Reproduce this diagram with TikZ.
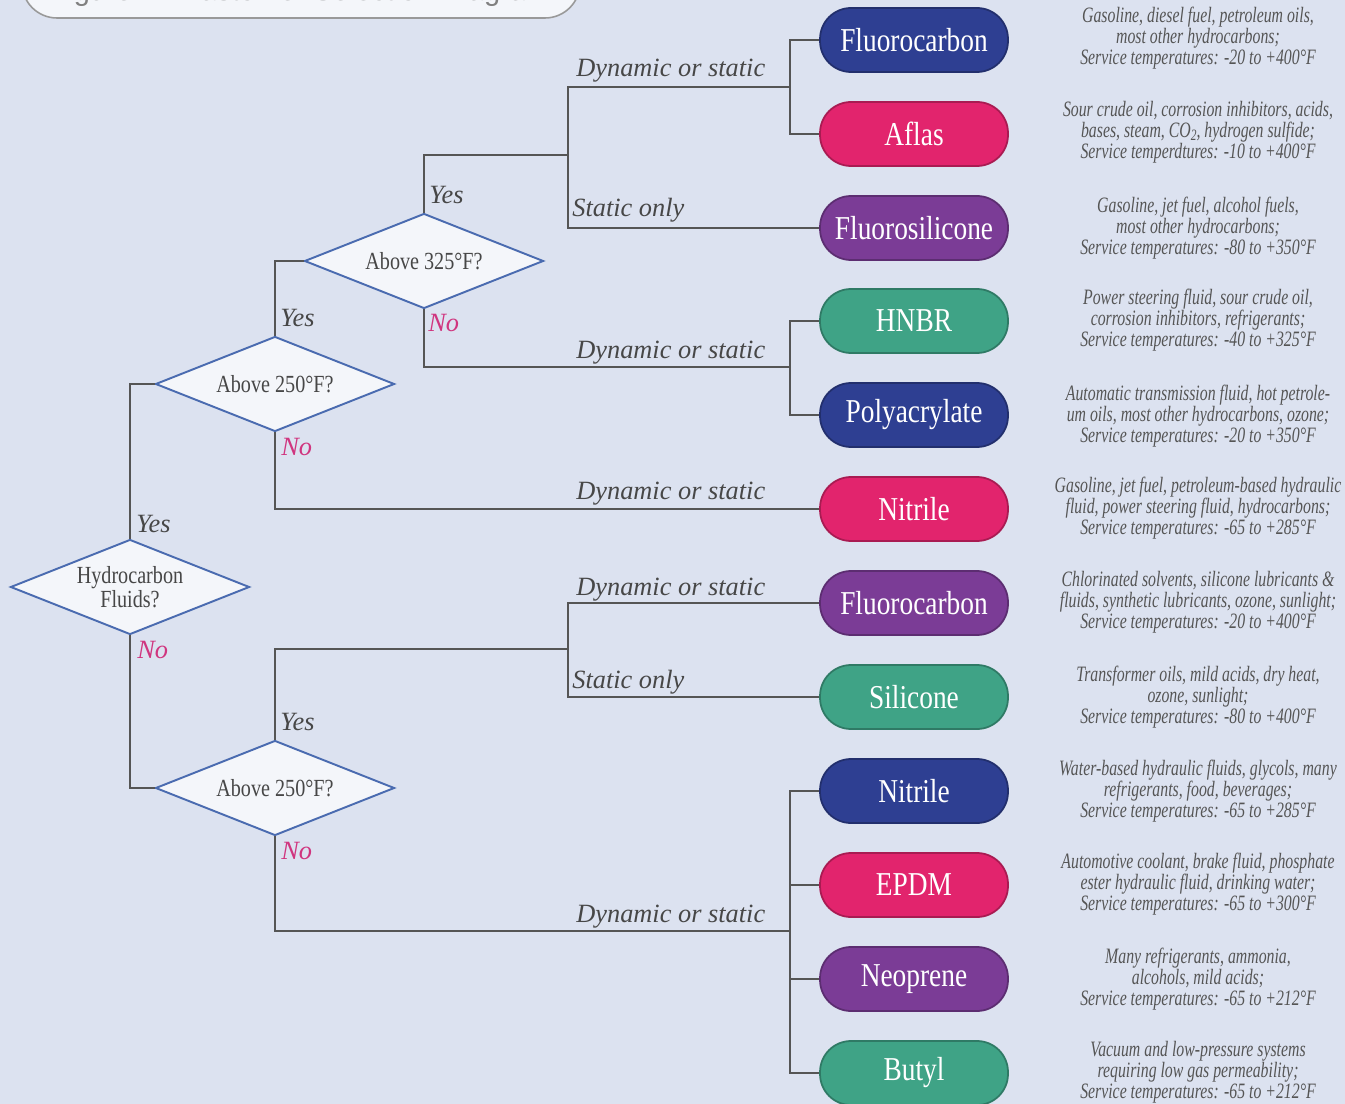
\documentclass[tikz,border=0pt]{standalone}
\usepackage{fontspec}
\setmainfont{Liberation Serif}
\newfontfamily\pillfont[FakeStretch=0.82]{Liberation Serif}
\newfontfamily\descfont[FakeStretch=0.72]{Liberation Serif}
\newfontfamily\titlefont{Liberation Sans}
\usetikzlibrary{shapes.geometric}
\definecolor{bg}{HTML}{DCE2F0}
\definecolor{cblue}{HTML}{2E3F92}
\definecolor{cpink}{HTML}{E2246D}
\definecolor{cpurple}{HTML}{7B3C96}
\definecolor{cgreen}{HTML}{3FA386}
\definecolor{lineC}{HTML}{555555}
\definecolor{dborder}{HTML}{4A6BB0}
\definecolor{dfill}{HTML}{F4F6FA}
\definecolor{nocol}{HTML}{D0357F}
\definecolor{txt}{HTML}{474747}
\definecolor{desctxt}{HTML}{555555}
\begin{document}
\begin{tikzpicture}[x=0.02cm,y=-0.02cm,
  pill/.style={rectangle, rounded corners=0.62cm, minimum width=3.76cm, minimum height=1.28cm,
    inner sep=0, text=white, font=\pillfont\fontsize{19}{22}\selectfont, line width=1pt},
  pblue/.style={pill, fill=cblue, draw=cblue!75!black},
  ppink/.style={pill, fill=cpink, draw=cpink!75!black},
  ppurple/.style={pill, fill=cpurple, draw=cpurple!75!black},
  pgreen/.style={pill, fill=cgreen, draw=cgreen!75!black},
  decision/.style={diamond, aspect=2.5, draw=dborder, fill=dfill, line width=1.1pt, minimum width=4.78cm,
    minimum height=1.9cm, inner sep=0, align=center, text=txt,
    font=\pillfont\fontsize{14}{12}\selectfont},
  conn/.style={draw=lineC, line width=0.7pt},
  lab/.style={anchor=base west, inner sep=0, text=txt, font=\itshape\fontsize{15}{16}\selectfont},
  nolab/.style={lab, text=nocol},
  desc/.style={align=center, inner sep=0, text=desctxt, font=\descfont\itshape\fontsize{12.5}{12}\selectfont}
]
\useasboundingbox (0,0) rectangle (1345,1104);
\clip (0,0) rectangle (1345,1104);
\fill[bg] (0,0) rectangle (1345,1104);

% title box (cut off by the top edge)
\draw[draw=gray!80, fill=dfill, rounded corners=0.7cm, line width=0.9pt] (22,-70) rectangle (580,18);
\node[anchor=base, inner sep=0, text=gray, font=\titlefont\fontsize{16.5}{18}\selectfont] (title) at (300,1) {Figure 1: Elastomer Selection Diagram};

% decisions
\node[decision] (d0) at (130,587) {Hydrocarbon\\Fluids?};
\node[decision] (d2) at (275,384) {Above 250°F?};
\node[decision] (d1) at (424,261) {Above 325°F?};
\node[decision] (d3) at (275,788) {Above 250°F?};

% materials
\node[pblue]   (fc1)  at (914,40)   {Fluorocarbon};
\node[ppink]   (afl)  at (914,134)  {Aflas};
\node[ppurple] (fs)   at (914,228)  {Fluorosilicone};
\node[pgreen]  (hnbr) at (914,321)  {HNBR};
\node[pblue]   (pa)   at (914,415)  {Polyacrylate};
\node[ppink]   (nit1) at (914,509)  {Nitrile};
\node[ppurple] (fc2)  at (914,603)  {Fluorocarbon};
\node[pgreen]  (sil)  at (914,697)  {Silicone};
\node[pblue]   (nit2) at (914,791)  {Nitrile};
\node[ppink]   (epdm) at (914,885)  {EPDM};
\node[ppurple] (neo)  at (914,979)  {Neoprene};
\node[pgreen]  (but)  at (914,1073) {Butyl};

% junction coordinates
\coordinate (ja) at (568,155);
\coordinate (kc) at (790,87);
\coordinate (kn) at (790,367);
\coordinate (ma) at (568,649);
\coordinate (mn) at (790,931);

% connectors
\draw[conn] (d0.north) |- (d2.west);
\draw[conn] (d0.south) |- (d3.west);
\draw[conn] (d2.north) |- (d1.west);
\draw[conn] (d2.south) |- (nit1.west);
\draw[conn] (d1.north) |- (ja);
\draw[conn] (kc) -| (ja) |- (fs.west);
\draw[conn] (fc1.west) -| (kc) |- (afl.west);
\draw[conn] (d1.south) |- (kn);
\draw[conn] (hnbr.west) -| (kn) |- (pa.west);
\draw[conn] (d3.north) |- (ma);
\draw[conn] (fc2.west) -| (ma) |- (sil.west);
\draw[conn] (d3.south) |- (mn);
\draw[conn] (nit2.west) -| (mn) |- (but.west);
\draw[conn] (epdm.west) -- (epdm.west -| mn);
\draw[conn] (neo.west) -- (neo.west -| mn);

% branch labels
\node[lab] (l1) at (576,77) {Dynamic or static};
\node[lab] (l2) at (572,217) {Static only};
\node[lab] (l3) at (576,359) {Dynamic or static};
\node[lab] (l4) at (576,500) {Dynamic or static};
\node[lab] (l5) at (576,595) {Dynamic or static};
\node[lab] (l6) at (572,688) {Static only};
\node[lab] (l7) at (576,922) {Dynamic or static};

\node[lab]   (y0) at (136,532) {Yes};
\node[nolab] (n0) at (137,658) {No};
\node[lab]   (y2) at (280,327) {Yes};
\node[nolab] (n2) at (281,456) {No};
\node[lab]   (y1) at (429,204) {Yes};
\node[nolab] (n1) at (428,332) {No};
\node[lab]   (y3) at (280,730) {Yes};
\node[nolab] (n3) at (281,859) {No};

% descriptions
\node[desc] (t1)  at (1198,38)   {Gasoline, diesel fuel, petroleum oils,\\most other hydrocarbons;\\Service temperatures: -20 to +400°F};
\node[desc] (t2)  at (1198,132)  {Sour crude oil, corrosion inhibitors, acids,\\bases, steam, CO\raisebox{-0.3ex}{\fontsize{9}{9}\selectfont 2}, hydrogen sulfide;\\Service temperdtures: -10 to +400°F};
\node[desc] (t3)  at (1198,228)  {Gasoline, jet fuel, alcohol fuels,\\most other hydrocarbons;\\Service temperatures: -80 to +350°F};
\node[desc] (t4)  at (1198,320)  {Power steering fluid, sour crude oil,\\corrosion inhibitors, refrigerants;\\Service temperatures: -40 to +325°F};
\node[desc] (t5)  at (1198,416)  {Automatic transmission fluid, hot petrole-\\um oils, most other hydrocarbons, ozone;\\Service temperatures: -20 to +350°F};
\node[desc] (t6)  at (1198,508)  {Gasoline, jet fuel, petroleum-based hydraulic\\fluid, power steering fluid, hydrocarbons;\\Service temperatures: -65 to +285°F};
\node[desc] (t7)  at (1198,602)  {Chlorinated solvents, silicone lubricants \&\\fluids, synthetic lubricants, ozone, sunlight;\\Service temperatures: -20 to +400°F};
\node[desc] (t8)  at (1198,697)  {Transformer oils, mild acids, dry heat,\\ozone, sunlight;\\Service temperatures: -80 to +400°F};
\node[desc] (t9)  at (1198,791)  {Water-based hydraulic fluids, glycols, many\\refrigerants, food, beverages;\\Service temperatures: -65 to +285°F};
\node[desc] (t10) at (1198,884)  {Automotive coolant, brake fluid, phosphate\\ester hydraulic fluid, drinking water;\\Service temperatures: -65 to +300°F};
\node[desc] (t11) at (1198,979)  {Many refrigerants, ammonia,\\alcohols, mild acids;\\Service temperatures: -65 to +212°F};
\node[desc] (t12) at (1198,1072) {Vacuum and low-pressure systems\\requiring low gas permeability;\\Service temperatures: -65 to +212°F};
\end{tikzpicture}
\end{document}
